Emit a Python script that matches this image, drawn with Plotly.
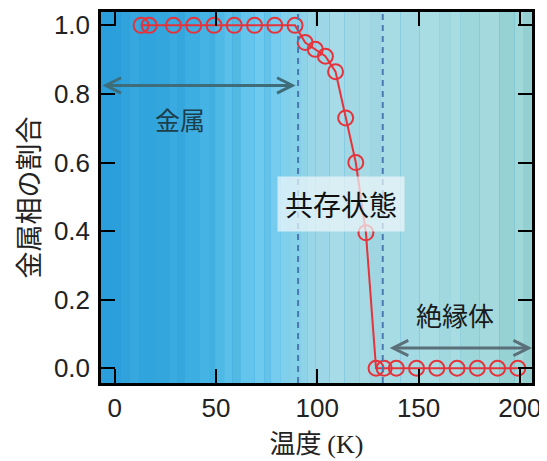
import plotly.graph_objects as go

# ---- data ----
temperature_K = [13, 17, 29, 39, 49, 59, 69, 79, 89, 94, 99, 104, 109, 114, 119, 124,
                 129, 133, 139, 149, 159, 169, 179, 189, 199]
metal_fraction = [1.0, 1.0, 1.0, 1.0, 1.0, 1.0, 1.0, 1.0, 1.0, 0.95, 0.93, 0.91, 0.865,
                  0.73, 0.60, 0.395, 0, 0, 0, 0, 0, 0, 0, 0, 0]
x_ticks = [0, 50, 100, 150, 200]
y_ticks = [0.0, 0.2, 0.4, 0.6, 0.8, 1.0]
y_tick_text = ["0.0", "0.2", "0.4", "0.6", "0.8", "1.0"]
boundary_T = [90.5, 132.3]          # dashed lines
region_labels = ["金属", "共存状態", "絶縁体"]

# background stripes (start temperature, colour)
stripe_starts = [-8, 3, 7.5, 12, 20, 27, 31, 34.5, 42, 47, 49.5, 54, 58, 62, 69, 74, 77,
                 82, 86.5, 91.5, 95, 99, 106, 113.5, 121, 126, 131, 141, 150.5, 160.5,
                 166, 170.5, 180, 190, 197.5, 202]
stripe_colors = ["#2b9fdb", "#30a3dd", "#36a8df", "#2fa4dd", "#34a6de", "#3aabe1",
                 "#35a7dd", "#3daee2", "#45b3e3", "#41afdf", "#4fb9e5", "#5ac0e9",
                 "#52b9e2", "#63c5ec", "#6ecaee", "#66c3e8", "#76ccee", "#80d0ec",
                 "#86d1ea", "#8fd3e8", "#99d6e8", "#9dd6e6", "#a6dbe7", "#a2d8e4",
                 "#a6dae5", "#9fd6e2", "#a8dce5", "#a3dae3", "#a9dde4", "#a1d8df",
                 "#a7dce2", "#9dd6db", "#a4d9dd", "#96d1d4", "#a0d7d8", "#94d0d2"]
stripe_end = 208

X_RANGE = [-6.8, 206]
Y_RANGE = [-0.043, 1.039]

fig = go.Figure()

fig.add_trace(go.Scatter(
    x=temperature_K, y=metal_fraction, mode="lines+markers",
    line=dict(color="#e5333b", width=2),
    marker=dict(symbol="circle-open", size=15, color="#e5333b", line=dict(width=2, color="#e5333b")),
    showlegend=False, cliponaxis=False,
))

shapes = []
ends = stripe_starts[1:] + [stripe_end]
for s, e, c in zip(stripe_starts, ends, stripe_colors):
    shapes.append(dict(type="rect", xref="x", yref="paper", x0=s, x1=e, y0=0, y1=1,
                       fillcolor=c, line=dict(width=0), layer="below"))
for t in boundary_T:
    shapes.append(dict(type="line", xref="x", yref="paper", x0=t, x1=t, y0=0, y1=1,
                       line=dict(color="#4a78b0", width=2, dash="6px,5px"), layer="above"))

annotations = [
    # metal arrow
    dict(x=89.3, y=0.825, ax=-6.8, ay=0.825, xref="x", yref="y", axref="x", ayref="y",
         text="", showarrow=True, arrowhead=5, startarrowhead=5, arrowside="end+start",
         arrowsize=1.0, startarrowsize=1.0, arrowwidth=3, arrowcolor="#3e6c78"),
    dict(x=32, y=0.728, xref="x", yref="y", text=region_labels[0], showarrow=False,
         font=dict(family="Noto Sans CJK JP", size=25, color="#1d3f4c")),
    # coexistence label
    dict(x=111.6, y=0.48, xref="x", yref="y", text=region_labels[1], showarrow=False,
         bgcolor="rgba(238,247,250,0.72)", borderpad=7,
         font=dict(family="Noto Sans CJK JP", size=28, color="#111111")),
    # insulator arrow
    dict(x=206, y=0.059, ax=135, ay=0.059, xref="x", yref="y", axref="x", ayref="y",
         text="", showarrow=True, arrowhead=5, startarrowhead=5, arrowside="end+start",
         arrowsize=1.0, startarrowsize=1.0, arrowwidth=3, arrowcolor="#5a6f77"),
    dict(x=168, y=0.156, xref="x", yref="y", text=region_labels[2], showarrow=False,
         font=dict(family="Noto Sans CJK JP", size=26, color="#1a1a1a")),
]

axis_common = dict(showline=True, linewidth=2.5, linecolor="black", mirror="ticks",
                   ticks="inside", ticklen=14, tickwidth=2, tickcolor="black",
                   showgrid=False, zeroline=False, automargin=False,
                   tickfont=dict(family="Liberation Sans, Arial", size=26, color="#222222"))

# the page body has an 8px margin, so the figure is offset by 8px; compensate
fig.update_layout(
    width=539, height=453,
    margin=dict(l=93, r=15, t=4, b=78),
    paper_bgcolor="white", plot_bgcolor="#2b9fdb",
    shapes=shapes, annotations=annotations,
    xaxis=dict(range=X_RANGE, tickvals=x_ticks, ticktext=[str(v) for v in x_ticks],
               ticklabelstandoff=0,
               title=dict(text="温度 <span style='font-family:Liberation Serif, Times New Roman'>(K)</span>",
                          font=dict(family="Noto Sans CJK JP", size=26, color="#222222"),
                          standoff=6),
               **axis_common),
    yaxis=dict(range=Y_RANGE, tickvals=y_ticks, ticktext=y_tick_text,
               ticklabelstandoff=3,
               title=dict(text="金属相の割合",
                          font=dict(family="Noto Sans CJK JP", size=27, color="#222222"),
                          standoff=8),
               **axis_common),
)

fig.write_html("out.html")
